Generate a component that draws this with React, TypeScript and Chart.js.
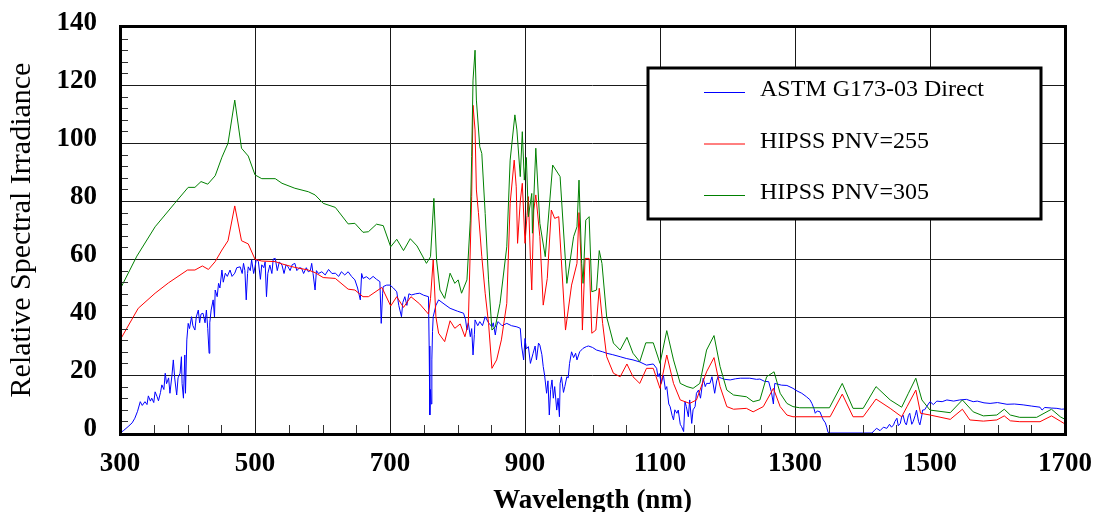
import React, { useEffect, useRef } from "react";
import { Chart, registerables } from "chart.js";

Chart.register(...registerables);

// ---- Axis settings ----
const X_MIN = 300;
const X_MAX = 1700;
const X_STEP = 200;
const X_MINOR = 50;
const Y_MIN = 0;
const Y_MAX = 140;
const Y_STEP = 20;
const Y_MINOR = 4;

const X_TITLE = "Wavelength (nm)";
const Y_TITLE = "Relative Spectral Irradiance";

const SERIES_LABELS = ["ASTM G173-03 Direct", "HIPSS PNV=255", "HIPSS PNV=305"];
const SERIES_COLORS = ["#0000ff", "#ff0000", "#008000"];

// ---- ASTM G173-03 Direct ----
const astmWl = [
  300, 305, 312, 318, 322, 326, 330, 333, 337, 340, 342, 345, 347, 350, 352, 355, 357, 360, 362, 365,
  367, 369, 372, 374, 377, 379, 381, 384, 386, 389, 391, 392, 394, 396, 397, 399, 401, 403, 406, 408,
  411, 413, 416, 418, 420, 423, 426, 428, 430, 432, 433, 435, 438, 440, 441, 444, 446, 448, 451, 453,
  456, 459, 463, 466, 470, 473, 478, 481, 483, 485, 487, 489, 490, 493, 495, 498, 500, 502, 505, 508,
  510, 513, 515, 517, 519, 522, 525, 527, 530, 533, 536, 540, 543, 546, 549, 552, 555, 559, 562, 566,
  569, 572, 576, 579, 582, 584, 586, 589, 591, 594, 599, 604, 609, 614, 619, 624, 628, 633, 638, 643,
  648, 652, 656, 658, 660, 665, 670, 675, 680, 685, 687, 689, 690, 695, 700, 705, 710, 713, 717, 719,
  722, 725, 728, 732, 738, 744, 750, 757, 758, 759, 760, 761, 762, 763, 764, 768, 772, 780, 789, 800,
  809, 812, 814, 816, 819, 821, 823, 825, 826, 830, 833, 837, 841, 846, 851, 853, 856, 858, 860, 866,
  873, 880, 888, 893, 895, 898, 900, 902, 905, 908, 912, 915, 917, 920, 922, 925, 927, 929, 932, 934,
  936, 938, 940, 942, 944, 947, 949, 951, 952, 954, 957, 959, 962, 964, 966, 969, 972, 975, 977, 981,
  986, 991, 994, 1000, 1006, 1015, 1021, 1030, 1041, 1050, 1060, 1070, 1080, 1090, 1095, 1097, 1099, 1102, 1105, 1108,
  1110, 1113, 1115, 1118, 1120, 1122, 1125, 1127, 1130, 1132, 1135, 1137, 1139, 1142, 1144, 1147, 1149, 1152, 1154, 1157,
  1160, 1164, 1167, 1169, 1174, 1177, 1181, 1184, 1186, 1191, 1196, 1204, 1212, 1219, 1233, 1243, 1248, 1255, 1261, 1265,
  1268, 1270, 1280, 1288, 1297, 1303, 1310, 1317, 1322, 1325, 1328, 1330, 1333, 1337, 1340, 1342, 1345, 1347, 1349, 1352,
  1380, 1414, 1418, 1421, 1426, 1431, 1436, 1440, 1443, 1446, 1448, 1451, 1453, 1456, 1458, 1460, 1463, 1465, 1468, 1470,
  1473, 1475, 1478, 1480, 1483, 1485, 1488, 1489, 1492, 1495, 1500, 1505, 1510, 1518, 1525, 1535, 1544, 1554, 1564, 1570,
  1580, 1589, 1600, 1614, 1625, 1638, 1650, 1663, 1666, 1670, 1680, 1688, 1695, 1700,
];
const astmVal = [
  0, 0.8, 2.2, 3.5, 5.1, 7.5, 10.8, 9.5, 10.8, 9.8, 12.8, 11, 12, 10.5, 14.2, 12.5, 11.1, 14, 16.6, 15,
  20.6, 17, 19, 13.7, 20, 25.2, 19, 13.1, 19, 20.6, 26.3, 17, 12, 26.9, 13.7, 32.1, 37.8, 36, 40.1, 37,
  35.5, 40, 42.4, 38, 41, 41.3, 38, 42.4, 36, 27.5, 38, 42.4, 45.9, 40, 49.3, 47, 51.6, 50, 56.2, 52,
  55.1, 54, 56.2, 54, 55.1, 57, 57.3, 55, 58.5, 56, 45.9, 55, 57.3, 56, 59.7, 55, 57.3, 60, 59.1, 53,
  58, 57, 59, 47, 55, 57.9, 55, 60, 60.2, 56, 59, 57.9, 55, 58, 57.3, 56, 58, 58.5, 56, 57,
  56.8, 55, 57, 55.6, 56, 58.5, 55, 49.3, 56, 55, 55.6, 54.5, 56.4, 55, 55.1, 54, 55.6, 54.5, 55.6, 54,
  52.8, 50, 45.9, 55, 53.3, 53.9, 53, 54, 53, 52.2, 37.8, 48, 50.5, 51, 51, 50, 48.7, 44, 40.1, 45,
  47, 44, 48, 47.6, 48, 48.2, 47.5, 47, 30, 6.2, 15, 10, 25.2, 35, 40.1, 44, 45.9, 44.5, 43, 42,
  41.3, 39, 35.5, 38, 33.2, 36, 26.9, 34, 39, 37, 38.4, 37, 40.1, 38, 36.6, 38, 33.8, 37, 38.4, 37,
  37.8, 37, 36.6, 36.1, 30, 25.2, 32.6, 29, 29.8, 24, 27.5, 30, 25.2, 31, 30.3, 27, 22.9, 20, 13.7, 18,
  6.2, 15, 18.3, 12, 16, 7.9, 12, 5.6, 17.1, 19.4, 14, 16, 19.4, 19, 24, 28, 26, 27.5, 25.2, 28,
  29.2, 29.8, 30, 29.5, 28.6, 28, 27.5, 27, 26.3, 25.7, 25.2, 24.5, 23.4, 23.8, 22.3, 19.4, 20.5, 17.1, 20, 15,
  16, 10, 9.1, 6, 4.5, 8, 6.8, 7.9, 3, 2.2, 0.5, 10.8, 9.1, 5.6, 11.4, 3.3, 8, 9.1, 13.7, 14.8,
  12, 18.9, 16, 17.1, 17.1, 19.4, 13.7, 18, 19.4, 18.9, 18.5, 18.3, 18.7, 18.9, 18.9, 18.5, 18.6, 17.8, 17.7, 14.2,
  10, 17.1, 16.5, 16.4, 15.4, 14.5, 13.7, 12.5, 11.5, 10.2, 8.5, 6.8, 7.6, 7.3, 5.5, 4.5, 3.5, 2, 0.2, 0,
  0, 0, 1, 1.6, 0.8, 2, 1.6, 3, 2, 2.8, 4, 5.1, 2.5, 3.3, 5.5, 6.2, 3.5, 2.8, 6, 6.8,
  3, 3.9, 6, 7.9, 4, 2.8, 6.2, 7.9, 8, 9.1, 10.8, 9.8, 11, 10.8, 11.4, 11, 11.4, 11.6, 10.8, 11,
  10.4, 10.2, 10.5, 9.9, 10, 9.7, 9.3, 8.9, 7.9, 8.8, 8.6, 8.5, 8.2, 8.3,
];

// ---- HIPSS PNV=255 ----
const pnv255Wl = [
  300, 327, 352, 372, 400, 411, 422, 431, 441, 451, 460, 470, 480, 490, 500, 510, 530, 540, 559, 579,
  589, 601, 619, 638, 648, 660, 668, 688, 701, 710, 720, 731, 744, 757, 760, 764, 768, 772, 781, 789,
  796, 804, 811, 816, 821, 823, 826, 828, 831, 836, 841, 846, 851, 858, 865, 873, 878, 884, 887, 889,
  893, 896, 900, 903, 905, 908, 910, 913, 916, 922, 927, 933, 939, 944, 950, 960, 969, 977, 980, 983,
  985, 989, 995, 999, 1005, 1010, 1015, 1021, 1031, 1041, 1051, 1060, 1070, 1080, 1090, 1100, 1110, 1120, 1130, 1144,
  1154, 1169, 1180, 1189, 1199, 1209, 1228, 1238, 1253, 1268, 1278, 1288, 1297, 1352, 1370, 1386, 1401, 1420, 1441, 1458,
  1466, 1479, 1486, 1500, 1530, 1548, 1559, 1579, 1599, 1610, 1619, 1633, 1663, 1680, 1693, 1700,
];
const pnv255Val = [
  32, 43, 48.2, 51.8, 56.2, 56.2, 57.6, 56.4, 59.1, 63.1, 66.3, 78.3, 66.3, 65.2, 59.9, 59.3, 59.1, 58.3, 57.1, 56.2,
  55.3, 53.6, 53.3, 49.6, 49.3, 47, 47, 50.2, 43.8, 47, 43.3, 47, 44.5, 41, 46.4, 59.7, 40.1, 34.4, 31.5, 38.7,
  36.1, 37.6, 33.2, 37.8, 81.5, 113, 104.5, 83.8, 76, 60.8, 48.2, 37.8, 22.3, 25.2, 32.1, 44.7, 79.2, 94.1, 84.9, 65.4,
  80, 86.1, 65.4, 75, 81.5, 60, 49.3, 76.9, 82.1, 67.7, 44.1, 53.3, 76.9, 74, 74.6, 35.5, 51, 58.5, 76, 59.7,
  35.5, 60.2, 60.2, 34.4, 35.5, 49.9, 37.8, 26.3, 20.6, 19.4, 23.8, 19.4, 17.1, 22.3, 22.3, 15.4, 26.9, 17.1, 11.4, 10.2,
  11.4, 21.1, 26, 16, 9.1, 8.2, 8.5, 7.3, 9.1, 15.4, 9.1, 6.2, 5.6, 5.6, 13.4, 5.6, 5.6, 11.7, 8.5, 5.6,
  9.1, 14.8, 6.8, 6.2, 4.7, 8.2, 4.5, 4.1, 4.5, 5.9, 4.2, 3.9, 3.9, 5.9, 4.1, 3.1,
];

// ---- HIPSS PNV=305 ----
const pnv305Wl = [
  300, 325, 352, 381, 401, 411, 420, 430, 441, 451, 460, 470, 480, 490, 500, 510, 530, 540, 559, 579,
  589, 601, 619, 638, 648, 660, 668, 680, 690, 701, 710, 720, 730, 740, 754, 760, 765, 769, 774, 781,
  789, 796, 801, 806, 814, 819, 821, 823, 826, 828, 833, 836, 841, 846, 851, 856, 863, 873, 878, 885,
  888, 893, 896, 899, 902, 905, 910, 911, 916, 922, 930, 941, 952, 962, 972, 977, 980, 984, 986, 990,
  995, 999, 1006, 1010, 1014, 1021, 1031, 1041, 1051, 1060, 1070, 1079, 1090, 1100, 1110, 1120, 1130, 1140, 1149, 1159,
  1169, 1180, 1189, 1199, 1209, 1228, 1238, 1248, 1258, 1269, 1278, 1288, 1297, 1307, 1351, 1370, 1386, 1401, 1420, 1441,
  1458, 1468, 1479, 1488, 1500, 1530, 1548, 1564, 1579, 1599, 1610, 1619, 1633, 1658, 1680, 1693, 1700,
];
const pnv305Val = [
  49.5, 61, 71.1, 79.2, 84.7, 84.7, 86.7, 85.8, 88.7, 95.1, 99.9, 114.8, 98.2, 95.5, 89, 87.7, 87.7, 86.1, 84.4, 83.2,
  82.1, 79.2, 77.8, 72.1, 72.3, 69.2, 69.4, 72, 71.5, 64.2, 66.8, 62.9, 67, 64.5, 58.5, 60.8, 80.9, 59.7, 49.3, 46.4,
  55.1, 51.6, 52.8, 48.2, 52.8, 73.4, 95.3, 121.7, 132, 114.8, 98.7, 96.4, 75.7, 52.8, 35.5, 36.6, 44.7, 64.2, 94.1, 109.7,
  104.5, 88.4, 103.9, 87.2, 95, 74.6, 82.6, 68.9, 98.2, 72.3, 60.8, 92.4, 88.4, 51.6, 67.7, 71.1, 87.2, 58.5, 51.6, 73.4,
  74.6, 48.7, 49.3, 62.9, 58.5, 40, 31, 28.6, 33, 27.5, 24.6, 31.1, 31.1, 24, 35.3, 25.2, 17.1, 16, 15.4, 17.1,
  28.6, 33.6, 22.9, 14.8, 13.1, 12.5, 10.8, 11.4, 19.4, 21.1, 13.7, 10.2, 9.1, 8.7, 8.7, 17.1, 8.5, 8.5, 16, 11.4,
  8.9, 13.7, 18.9, 11.4, 7.9, 7, 11.4, 7.3, 5.9, 6.2, 8.2, 6.2, 5.4, 5.4, 8.2, 5.6, 4.7,
];

const FONT = "'Liberation Serif', 'Times New Roman', serif";

function toPoints(xs: number[], ys: number[]) {
  return xs.map((x, i) => ({ x, y: ys[i] }));
}

const framePlugin = {
  id: "frameAndLegend",
  afterDraw(chart: any) {
    const { ctx, chartArea: a, scales } = chart;
    const xs = scales.x;
    const ys = scales.y;
    ctx.save();
    // minor ticks
    ctx.strokeStyle = "#333";
    ctx.lineWidth = 1;
    ctx.beginPath();
    for (let v = X_MIN + X_MINOR; v < X_MAX; v += X_MINOR) {
      if ((v - X_MIN) % X_STEP === 0) continue;
      const px = Math.round(xs.getPixelForValue(v)) + 0.5;
      ctx.moveTo(px, a.bottom);
      ctx.lineTo(px, a.bottom - 8);
    }
    for (let v = Y_MIN + Y_MINOR; v < Y_MAX; v += Y_MINOR) {
      if (v % Y_STEP === 0) continue;
      const py = Math.round(ys.getPixelForValue(v)) + 0.5;
      ctx.moveTo(a.left, py);
      ctx.lineTo(a.left + 8, py);
    }
    ctx.stroke();

    // frame
    ctx.strokeStyle = "#000";
    ctx.lineWidth = 3;
    ctx.strokeRect(a.left + 0.5, a.top - 0.5, a.right - a.left, a.bottom - a.top + 2);

    // legend
    const bx = 648, by = 68, bw = 393, bh = 151;
    ctx.fillStyle = "#fff";
    ctx.fillRect(bx, by, bw, bh);
    ctx.lineWidth = 3;
    ctx.strokeStyle = "#000";
    ctx.strokeRect(bx, by, bw, bh);
    const rowsBase = [96, 147.5, 199];
    ctx.font = `24px ${FONT}`;
    ctx.textBaseline = "alphabetic";
    ctx.textAlign = "left";
    chart.data.datasets.forEach((ds: any, i: number) => {
      const base = rowsBase[i];
      ctx.strokeStyle = ds.borderColor;
      ctx.lineWidth = 1;
      ctx.beginPath();
      ctx.moveTo(704, base - 3.5);
      ctx.lineTo(745, base - 3.5);
      ctx.stroke();
      ctx.fillStyle = "#000";
      ctx.fillText(ds.label, 760, base);
    });
    ctx.restore();
  },
};

export default function App() {
  const ref = useRef<HTMLCanvasElement | null>(null);
  useEffect(() => {
    if (!ref.current) return;
    const series = [
      { wl: astmWl, val: astmVal, order: 3 },
      { wl: pnv255Wl, val: pnv255Val, order: 2 },
      { wl: pnv305Wl, val: pnv305Val, order: 1 },
    ];
    const chart = new Chart(ref.current, {
      type: "line",
      data: {
        datasets: series.map((s, i) => ({
          label: SERIES_LABELS[i],
          data: toPoints(s.wl, s.val),
          borderColor: SERIES_COLORS[i],
          backgroundColor: SERIES_COLORS[i],
          borderWidth: 1,
          pointRadius: 0,
          pointHitRadius: 0,
          tension: 0,
          fill: false,
          order: s.order,
        })),
      },
      options: {
        animation: false,
        responsive: false,
        maintainAspectRatio: false,
        events: [],
        layout: { padding: { top: 27, right: 29, left: 0, bottom: 0 } },
        plugins: {
          legend: { display: false },
          tooltip: { enabled: false },
          title: { display: false },
        },
        scales: {
          x: {
            type: "linear",
            min: X_MIN,
            max: X_MAX,
            afterFit: (s: any) => {
              s.height = 79;
            },
            ticks: {
              stepSize: X_STEP,
              autoSkip: false,
              maxRotation: 0,
              padding: 0,
              color: "#000",
              font: { family: FONT, size: 27, weight: "bold", lineHeight: 1 },
              callback: (v: any) => String(v),
            },
            grid: {
              color: "#1a1a1a",
              lineWidth: 1,
              drawTicks: true,
              tickLength: 17.5,
              tickColor: "rgba(0,0,0,0)",
            },
            border: { display: false },
            title: {
              display: true,
              text: X_TITLE,
              color: "#000",
              font: { family: FONT, size: 27, weight: "bold", lineHeight: 0.8 },
              padding: { top: 0, bottom: 0.2 },
            },
          },
          y: {
            type: "linear",
            min: Y_MIN,
            max: Y_MAX,
            afterFit: (s: any) => {
              s.width = 120;
            },
            ticks: {
              stepSize: Y_STEP,
              padding: 0,
              labelOffset: -4,
              color: "#000",
              font: { family: FONT, size: 27, weight: "bold", lineHeight: 1 },
              callback: (v: any) => String(v),
            },
            grid: {
              color: "#1a1a1a",
              lineWidth: 1,
              drawTicks: true,
              tickLength: 23,
              tickColor: "rgba(0,0,0,0)",
            },
            border: { display: false },
            title: {
              display: true,
              text: Y_TITLE,
              color: "#000",
              font: { family: FONT, size: 30, weight: "normal", lineHeight: 1 },
              padding: { top: 7, bottom: 0 },
            },
          },
        },
      },
      plugins: [framePlugin],
    });
    return () => chart.destroy();
  }, []);

  return (
    <div style={{ position: "fixed", left: 0, top: 0, width: 1094, height: 512, background: "#fff" }}>
      <canvas ref={ref} width={1094} height={512} style={{ display: "block" }} />
    </div>
  );
}
